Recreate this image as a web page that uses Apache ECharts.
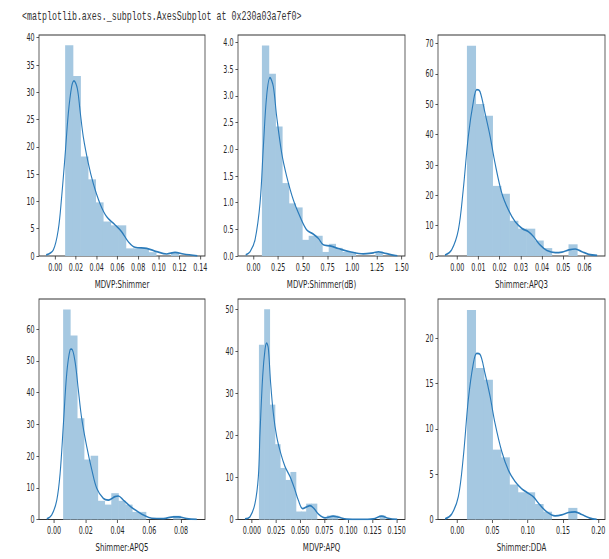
<!DOCTYPE html>
<html>
<head>
<meta charset="utf-8">
<script src="https://cdn.jsdelivr.net/npm/echarts@6/dist/echarts.min.js"></script>
<style>
  html, body { margin: 0; padding: 0; background: #fff; overflow: hidden; }
  #main { height: 559px; transform-origin: 0 0; }
</style>
</head>
<body>
<div id="main"></div>
<script>
// the original screenshot is squeezed sideways, so draw wide and squeeze it back
const S = 0.64;

const titleText = '<matplotlib.axes._subplots.AxesSubplot at 0x230a03a7ef0>';
const names = ['MDVP:Shimmer', 'MDVP:Shimmer(dB)', 'Shimmer:APQ3', 'Shimmer:APQ5', 'MDVP:APQ', 'Shimmer:DDA'];

// histogram bins (density)
const binStarts = [0.00954, 0.085, 0.00455, 0.0057, 0.00719, 0.01364];
const binWidths = [0.0073, 0.0676, 0.003994, 0.004335, 0.005441, 0.011983];
const histShimmer = [38.6, 33.0, 18.25, 14.05, 9.83, 6.32, 5.62, 5.62, 1.40, 1.40, 1.40, 0.70, 0, 0, 0.70];
const histShimmerDb = [3.945, 3.414, 2.428, 1.366, 0.986, 0.910, 0.303, 0.379, 0.379, 0.076, 0.228, 0.152, 0.076, 0.076, 0, 0, 0, 0.076];
const histApq3 = [69.3, 50.1, 46.2, 23.1, 20.5, 11.6, 9.0, 9.0, 5.1, 2.6, 0, 0, 3.85];
const histApq5 = [66.2, 58.0, 31.9, 18.9, 20.1, 5.9, 4.7, 8.3, 5.9, 4.7, 2.4, 2.4, 0, 0, 0, 0, 1.18];
const histApq = [41.5, 49.95, 27.3, 17.9, 12.25, 9.4, 11.3, 1.9, 1.9, 3.77, 3.77, 0, 0, 0.94, 0.94, 0, 0, 0, 0, 0, 0, 0, 0, 0.94];
const histDda = [23.1, 16.7, 15.4, 7.7, 6.85, 3.85, 3.0, 3.0, 1.71, 0.86, 0, 0, 1.28];

// kde curves
const kdeShimmer = [[-0.0088,0.2],[-0.0019,1.1],[0.0029,4.8],[0.0062,10.9],[0.0094,18.2],[0.0126,26.1],[0.0158,31],[0.0181,32.1],[0.0213,30.7],[0.0239,26.7],[0.0271,21.8],[0.0319,17],[0.0367,13.3],[0.0432,9.6],[0.0496,7.2],[0.0577,5.7],[0.0641,4.45],[0.0706,2.6],[0.077,1.6],[0.0883,1.4],[0.0979,0.8],[0.1076,0.37],[0.1157,0.67],[0.1237,0.37],[0.1372,0.03]];
const kdeShimmerDb = [[-0.079,0.02],[-0.035,0.08],[0.015,0.3],[0.066,0.99],[0.1,2.06],[0.133,3.0],[0.167,3.34],[0.2,3.18],[0.234,2.62],[0.285,1.93],[0.336,1.49],[0.403,1.05],[0.47,0.74],[0.538,0.49],[0.605,0.41],[0.656,0.33],[0.706,0.21],[0.774,0.19],[0.859,0.14],[0.976,0.08],[1.111,0.04],[1.213,0.06],[1.264,0.08],[1.314,0.06],[1.399,0.02],[1.456,0.005]];
const kdeApq3 = [[-0.0058,0.3],[-0.0027,2],[0.0005,8.6],[0.0028,21.8],[0.0052,39.4],[0.0076,50.9],[0.0092,54.8],[0.0107,54.2],[0.0131,47.1],[0.0155,39.4],[0.0178,30.6],[0.021,20.7],[0.0241,15.2],[0.0273,11.3],[0.0305,9.1],[0.0336,8.0],[0.036,6.4],[0.0391,3.6],[0.0423,1.8],[0.0462,1.1],[0.0494,1.3],[0.0526,2.0],[0.0557,2.3],[0.0589,1.4],[0.062,0.55],[0.066,0.2]];
const kdeApq5 = [[-0.0046,0.2],[-0.0015,1.4],[0.0017,6.1],[0.0038,14.5],[0.0059,30.3],[0.008,46.1],[0.0101,53.5],[0.0111,53.7],[0.0132,49.8],[0.0153,40.8],[0.0174,31.9],[0.0206,22.9],[0.0238,15.6],[0.0269,9.8],[0.0311,6.6],[0.0342,6.1],[0.0384,7.2],[0.0405,7.4],[0.0437,6.1],[0.0479,4.2],[0.0521,2.7],[0.0563,1.4],[0.0616,0.4],[0.0689,0.3],[0.0752,0.85],[0.0783,0.85],[0.0836,0.3],[0.0899,0.02]];
const kdeApq = [[-0.0073,0.16],[-0.0021,0.64],[0.0031,3.8],[0.0066,10.2],[0.0083,20.5],[0.0111,34.1],[0.0135,40.4],[0.0152,41.9],[0.0169,40.8],[0.0193,32.5],[0.0221,25.3],[0.0256,19.7],[0.0297,15.8],[0.0342,12.6],[0.0394,10.2],[0.0446,7.0],[0.048,4.6],[0.0525,2.6],[0.0567,3.0],[0.0601,3.3],[0.0643,2.6],[0.0688,1.3],[0.0757,0.4],[0.0843,0.8],[0.0895,0.56],[0.0982,0.08],[0.112,0.02],[0.1257,0.16],[0.1344,0.8],[0.1413,0.3],[0.1505,0.01]];
const kdeDda = [[-0.0174,0.07],[-0.008,0.6],[0.0014,2.5],[0.0085,6.9],[0.0156,13.2],[0.0227,17.2],[0.0275,18.3],[0.0322,18.2],[0.0393,16.1],[0.0464,13.6],[0.0535,10.6],[0.063,7.5],[0.0723,5.45],[0.0818,4.2],[0.0913,3.4],[0.1007,2.9],[0.1078,2.5],[0.1173,1.6],[0.1268,0.85],[0.1386,0.4],[0.148,0.5],[0.1575,0.77],[0.167,0.85],[0.1765,0.55],[0.1882,0.15],[0.1977,0.01]];

// axes
const xLimits = [[-0.0157, 0.1446], [-0.157, 1.533], [-0.0091, 0.0697], [-0.0095, 0.0951], [-0.0145, 0.1586], [-0.0274, 0.2095]];
const yLimits = [40.5, 4.14, 72.8, 69.5, 52.4, 24.3];
const xTicks = [
  [0, 0.02, 0.04, 0.06, 0.08, 0.10, 0.12, 0.14],
  [0, 0.25, 0.5, 0.75, 1.0, 1.25, 1.5],
  [0, 0.01, 0.02, 0.03, 0.04, 0.05, 0.06],
  [0, 0.02, 0.04, 0.06, 0.08],
  [0, 0.025, 0.05, 0.075, 0.1, 0.125, 0.15],
  [0, 0.05, 0.1, 0.15, 0.2]
];
const xDecimals = [2, 2, 2, 2, 3, 2];
const yTicks = [
  [0, 5, 10, 15, 20, 25, 30, 35, 40],
  [0, 0.5, 1, 1.5, 2, 2.5, 3, 3.5, 4],
  [0, 10, 20, 30, 40, 50, 60, 70],
  [0, 10, 20, 30, 40, 50, 60],
  [0, 10, 20, 30, 40, 50],
  [0, 5, 10, 15, 20]
];
const yDecimals = [0, 1, 0, 0, 0, 0];

const hists = [histShimmer, histShimmerDb, histApq3, histApq5, histApq, histDda];
const kdes = [kdeShimmer, kdeShimmerDb, kdeApq3, kdeApq5, kdeApq, kdeDda];

// panel boxes in final (squeezed) pixels
const boxes = [
  [39, 35, 166, 221], [238, 35, 167, 221], [438, 35, 167, 221],
  [39, 299, 166, 220.5], [238, 299, 167, 220.5], [438, 299, 167, 220.5]
];

const font = '"DejaVu Sans", sans-serif';
const ink = '#262626';
const frame = '#333';

function histItem(params, api) {
  const h = api.value(2);
  if (!h) return null;
  const a = api.coord([api.value(0), h]);
  const b = api.coord([api.value(1), 0]);
  // widen a touch so neighbouring bars do not show a seam
  return {
    type: 'rect',
    shape: { x: a[0], y: a[1], width: b[0] - a[0] + 1, height: b[1] - a[1] },
    style: { fill: '#a5c8e1' }
  };
}

const grid = [], xAxis = [], yAxis = [], series = [];
boxes.forEach((b, i) => {
  grid.push({
    left: b[0] / S, top: b[1], width: b[2] / S, height: b[3],
    show: true, borderColor: frame, borderWidth: 1.2, backgroundColor: 'transparent'
  });
  xAxis.push({
    gridIndex: i, type: 'value', min: xLimits[i][0], max: xLimits[i][1],
    name: names[i], nameLocation: 'middle', nameGap: 22,
    nameTextStyle: { fontSize: 11, color: ink, fontFamily: font },
    axisLine: { show: false, onZero: false },
    splitLine: { show: false },
    axisTick: { show: true, length: 3.5, lineStyle: { color: frame }, customValues: xTicks[i] },
    axisLabel: {
      customValues: xTicks[i], margin: 6, fontSize: 10, color: ink, fontFamily: font,
      formatter: v => v.toFixed(xDecimals[i])
    }
  });
  yAxis.push({
    gridIndex: i, type: 'value', min: 0, max: yLimits[i],
    axisLine: { show: false, onZero: false },
    splitLine: { show: false },
    axisTick: { show: true, length: 4, lineStyle: { color: frame }, customValues: yTicks[i] },
    axisLabel: {
      customValues: yTicks[i], margin: 7, fontSize: 10, color: ink, fontFamily: font,
      formatter: v => v.toFixed(yDecimals[i])
    }
  });
  const bars = hists[i].map((h, k) => [binStarts[i] + k * binWidths[i], binStarts[i] + (k + 1) * binWidths[i], h]);
  series.push({
    type: 'custom', xAxisIndex: i, yAxisIndex: i, renderItem: histItem,
    encode: { x: [0, 1], y: 2 }, data: bars, silent: true
  });
  series.push({
    type: 'line', xAxisIndex: i, yAxisIndex: i, data: kdes[i],
    showSymbol: false, smooth: 0.35, silent: true, z: 3,
    lineStyle: { color: '#2b7bba', width: 1.7 }
  });
});

const dom = document.getElementById('main');
dom.style.width = (609 / S) + 'px';
dom.style.transform = 'scaleX(' + S + ')';

const chart = echarts.init(dom, null, { renderer: 'svg' });
chart.setOption({
  animation: false,
  backgroundColor: '#fff',
  graphic: [{
    type: 'text', left: 22 / S, top: 10,
    style: { text: titleText, font: '13px "Liberation Mono", monospace', fill: '#333' }
  }],
  grid: grid,
  xAxis: xAxis,
  yAxis: yAxis,
  series: series
});
</script>
</body>
</html>
